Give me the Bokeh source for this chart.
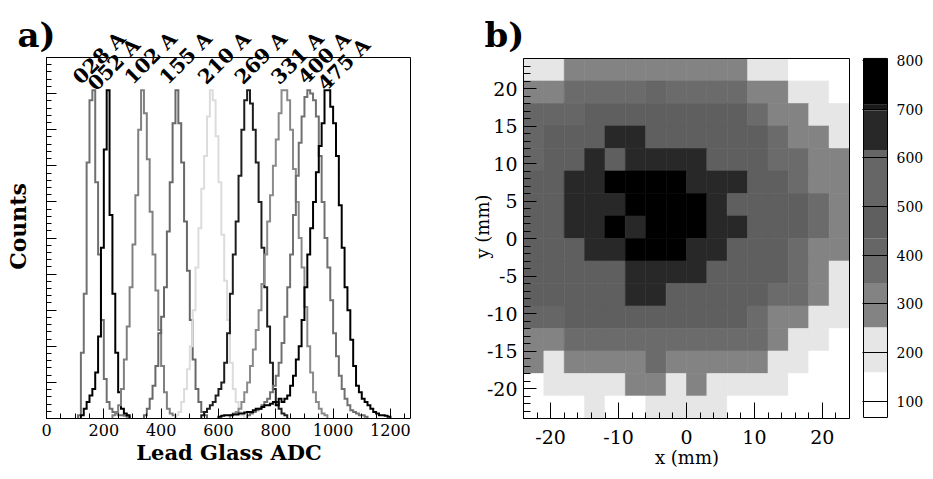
import numpy as np
from bokeh.plotting import figure
from bokeh.layouts import row
from bokeh.models import (ColumnDataSource, Label, Range1d, SingleIntervalTicker,
                          LinearColorMapper, CustomJSTickFormatter)
from bokeh.transform import transform
from bokeh.embed import file_html
from bokeh.resources import INLINE

FONT = "DejaVu Serif"

# ---------------- panel a : lead glass ADC spectra (normalised counts) ----------------
bin_width = 10
adc_max = 1270
count_max = 1.1
currents = ["028 A", "052 A", "102 A", "155 A", "210 A", "269 A", "331 A", "400 A", "475 A"]
first_edge = [110, 120, 230, 340, 450, 540, 640, 700, 600]

h028 = [0.01, 0.2, 0.38, 0.78, 0.97, 1.0, 0.72, 0.5, 0.3, 0.12, 0.05, 0.03, 0.02,
        0.015, 0.01, 0.01, 0.008, 0.005]
h052 = [0.01, 0.03, 0.05, 0.07, 0.09, 0.14, 0.25, 0.52, 0.82, 1.0, 0.62, 0.38, 0.2,
        0.08, 0.03, 0.015, 0.01]
h102 = [0.01, 0.02, 0.04, 0.09, 0.18, 0.28, 0.4, 0.53, 0.68, 0.88, 1.0, 0.93, 0.79,
        0.63, 0.5, 0.39, 0.27, 0.16, 0.08, 0.03, 0.015, 0.01]
h155 = [0.01, 0.03, 0.06, 0.1, 0.16, 0.26, 0.31, 0.4, 0.57, 0.72, 0.9, 1.0, 0.9,
        0.78, 0.6, 0.45, 0.3, 0.18, 0.09, 0.05, 0.02, 0.01]
h210 = [0.01, 0.02, 0.05, 0.09, 0.15, 0.22, 0.33, 0.46, 0.58, 0.7, 0.8, 0.92, 1.0,
        0.97, 0.86, 0.72, 0.56, 0.42, 0.3, 0.17, 0.09, 0.05, 0.02, 0.01]
h269 = [0.01, 0.02, 0.03, 0.04, 0.05, 0.07, 0.09, 0.11, 0.17, 0.26, 0.38, 0.5, 0.6,
        0.74, 0.88, 0.97, 1.0, 0.96, 0.88, 0.78, 0.66, 0.52, 0.4, 0.28, 0.17, 0.09,
        0.05, 0.03, 0.015, 0.01]
h331 = [0.01, 0.015, 0.02, 0.03, 0.05, 0.08, 0.11, 0.16, 0.21, 0.27, 0.33, 0.41, 0.5,
        0.6, 0.68, 0.77, 0.85, 0.93, 1.0, 1.0, 0.97, 0.88, 0.76, 0.66, 0.55, 0.46,
        0.34, 0.22, 0.14, 0.08, 0.05, 0.03, 0.015, 0.01]
h400 = [0.01, 0.015, 0.02, 0.025, 0.03, 0.04, 0.05, 0.06, 0.08, 0.1, 0.13, 0.17, 0.23,
        0.31, 0.4, 0.5, 0.62, 0.74, 0.84, 0.92, 0.98, 1.0, 0.99, 0.97, 0.92, 0.8,
        0.66, 0.55, 0.46, 0.36, 0.26, 0.19, 0.13, 0.09, 0.06, 0.04, 0.025, 0.02,
        0.015, 0.01, 0.01, 0.005]
h475 = [0.005, 0.008, 0.01, 0.01, 0.01, 0.012, 0.012, 0.015, 0.015, 0.018, 0.02, 0.02,
        0.025, 0.03, 0.03, 0.035, 0.04, 0.04, 0.045, 0.05, 0.04, 0.06, 0.05, 0.06,
        0.07, 0.1, 0.13, 0.18, 0.22, 0.3, 0.4, 0.5, 0.58, 0.66, 0.75, 0.83, 0.9, 1.0,
        1.0, 0.95, 0.9, 0.8, 0.65, 0.52, 0.4, 0.33, 0.24, 0.16, 0.1, 0.08, 0.06, 0.05,
        0.04, 0.03, 0.02, 0.015, 0.01, 0.01, 0.008, 0.005]
hist_values = [h028, h052, h102, h155, h210, h269, h331, h400, h475]
hist_colors = ["#707070", "#000000", "#808080", "#686868", "#dcdcdc",
               "#1e1e1e", "#8a8a8a", "#707070", "#000000"]
label_adc = [104, 156, 284, 406, 540, 668, 796, 889, 958]
label_level = [1.03, 1.01, 1.03, 1.03, 1.03, 1.03, 1.03, 1.03, 1.01]

# ---------------- panel b : beam profile (counts per 3x3 mm cell) ----------------
x_bins = [-22.5, -19.5, -16.5, -13.5, -10.5, -7.5, -4.5, -1.5,
          1.5, 4.5, 7.5, 10.5, 13.5, 16.5, 19.5, 22.5]
y_bins = [22.5, 19.5, 16.5, 13.5, 10.5, 7.5, 4.5, 1.5,
          -1.5, -4.5, -7.5, -10.5, -13.5, -16.5, -19.5, -22.5]
cell_size = 3
counts_grid = [
    [205, 210, 300, 305, 300, 300, 300, 300, 300, 300, 300, 210, 205, 110, 110, 110],
    [300, 300, 370, 370, 370, 370, 415, 370, 370, 370, 370, 300, 300, 205, 205, 110],
    [415, 415, 415, 470, 470, 470, 470, 470, 470, 470, 470, 370, 300, 300, 205, 205],
    [415, 470, 470, 470, 660, 660, 470, 470, 470, 470, 470, 470, 370, 300, 300, 205],
    [415, 470, 470, 660, 470, 660, 660, 660, 660, 470, 470, 470, 370, 370, 300, 300],
    [470, 470, 660, 660, 750, 750, 750, 750, 660, 660, 660, 470, 470, 370, 300, 300],
    [470, 470, 660, 660, 660, 750, 750, 750, 750, 660, 470, 470, 470, 470, 370, 300],
    [470, 470, 660, 660, 750, 660, 750, 750, 750, 660, 660, 470, 470, 470, 370, 300],
    [470, 470, 470, 660, 660, 750, 750, 750, 660, 660, 470, 470, 470, 370, 300, 300],
    [470, 470, 470, 470, 470, 660, 660, 660, 660, 470, 470, 470, 470, 370, 300, 205],
    [470, 470, 470, 470, 470, 660, 660, 470, 470, 470, 470, 470, 370, 370, 300, 205],
    [415, 415, 470, 470, 470, 470, 470, 470, 470, 470, 470, 370, 300, 300, 205, 205],
    [300, 300, 370, 370, 370, 370, 370, 370, 370, 370, 370, 370, 300, 205, 205, 110],
    [300, 205, 300, 300, 300, 300, 370, 300, 300, 300, 300, 300, 205, 205, 110, 110],
    [110, 205, 205, 205, 205, 300, 300, 205, 300, 205, 205, 205, 205, 110, 110, 110],
    [110, 110, 110, 205, 110, 110, 205, 205, 205, 205, 110, 110, 110, 110, 110, 110],
]
# colour-scale bands (z values) and their grey levels
cb_edges = [67, 160, 252, 343, 400, 435, 500, 616, 697, 709, 804]
cb_colors = ["#ffffff", "#e6e6e6", "#838383", "#6b6b6b", "#666666", "#5f5f5f",
             "#666666", "#282828", "#1a1a1a", "#000000"]

# ---------------- common frame geometry (frames are aligned across the row) ----------------
TOP, BOTTOM, H = 34, 60, 478          # frame spans y = 34 .. 418 in every figure
BOX_A_TOP = 57                        # top of histogram box in panel a
BOX_B_TOP = 58                        # top of heat-map box / colour bar
frame_h = H - TOP - BOTTOM


def title_style(t, offset):
    t.align = "left"
    t.offset = offset
    t.standoff = -40
    t.text_font = FONT
    t.text_font_style = "bold"
    t.text_font_size = "34px"
    t.text_color = "black"


# ====================== panel a ======================
pa = figure(width=460, height=H,
            x_range=Range1d(0, adc_max * 365 / 364),
            y_range=Range1d(0, count_max * frame_h / (H - BOTTOM - BOX_A_TOP)),
            output_backend="svg", toolbar_location=None, title="a)",
            min_border_left=46, min_border_right=49, min_border_top=TOP, min_border_bottom=BOTTOM)
pa.grid.visible = False
pa.outline_line_color = None
pa.border_fill_color = "white"
pa.background_fill_color = "white"
title_style(pa.title, -29)

# close the histogram box (top and right sides)
pa.line([0, adc_max, adc_max], [count_max, count_max, 0], line_color="black", line_width=1)

for vals, start, col in zip(hist_values, first_edge, hist_colors):
    xs = [start]
    ys = [0.0]
    for i, v in enumerate(vals):
        xs += [start + i * bin_width, start + (i + 1) * bin_width]
        ys += [v, v]
    xs.append(start + len(vals) * bin_width)
    ys.append(0.0)
    pa.line(xs, ys, line_color=col, line_width=2, line_join="miter")

for txt, lx, ly in zip(currents, label_adc, label_level):
    pa.add_layout(Label(x=lx, y=ly, text=txt, angle=45, angle_units="deg",
                        text_font=FONT, text_font_style="bold", text_font_size="20px",
                        text_align="left", text_baseline="alphabetic", text_color="black"))

xa = pa.xaxis[0]
xa.bounds = (0, adc_max)
xa.ticker = SingleIntervalTicker(interval=200, num_minor_ticks=4)
xa.major_tick_in = 10
xa.major_tick_out = 0
xa.minor_tick_in = 5
xa.minor_tick_out = 0
xa.axis_line_color = "black"
xa.major_tick_line_color = "black"
xa.minor_tick_line_color = "black"
xa.major_label_text_font = FONT
xa.major_label_text_font_size = "16px"
xa.major_label_text_color = "black"
xa.major_label_standoff = 5
xa.axis_label = "Lead Glass ADC"
xa.axis_label_text_font = FONT
xa.axis_label_text_font_style = "bold"
xa.axis_label_text_font_size = "21px"
xa.axis_label_text_color = "black"
xa.axis_label_standoff = 1

ya = pa.yaxis[0]
ya.bounds = (0, count_max)
ya.ticker = SingleIntervalTicker(interval=0.11, num_minor_ticks=5)
ya.formatter = CustomJSTickFormatter(code="return ''")
ya.major_tick_in = 10
ya.major_tick_out = 0
ya.minor_tick_in = 5
ya.minor_tick_out = 0
ya.axis_line_color = "black"
ya.major_tick_line_color = "black"
ya.minor_tick_line_color = "black"
ya.major_label_standoff = 0
ya.axis_label = "Counts"
ya.axis_label_text_font = FONT
ya.axis_label_text_font_style = "bold"
ya.axis_label_text_font_size = "22px"
ya.axis_label_text_color = "black"
ya.axis_label_standoff = 16

# ====================== panel b ======================
levels = np.arange(cb_edges[0], cb_edges[-1]) + 0.5
band_idx = np.searchsorted(cb_edges, levels, side="right") - 1
fine_palette = [cb_colors[i] for i in band_idx]
mapper = LinearColorMapper(palette=fine_palette, low=cb_edges[0], high=cb_edges[-1])

cx, cy, cz = [], [], []
for yv, row_vals in zip(y_bins, counts_grid):
    for xv, zv in zip(x_bins, row_vals):
        cx.append(xv)
        cy.append(yv)
        cz.append(zv)
src = ColumnDataSource(data=dict(x=cx, y=cy, z=cz))

x_lo, x_hi = min(x_bins) - cell_size / 2, max(x_bins) + cell_size / 2
y_lo, y_hi = min(y_bins) - cell_size / 2, max(y_bins) + cell_size / 2
box_h = H - BOTTOM - BOX_B_TOP
pb = figure(width=396, height=H,
            x_range=Range1d(x_lo, x_hi + (x_hi - x_lo) / 326),
            y_range=Range1d(y_lo, y_lo + (y_hi - y_lo) * frame_h / box_h),
            output_backend="svg", toolbar_location=None, title="b)",
            min_border_left=63, min_border_right=6, min_border_top=TOP, min_border_bottom=BOTTOM)
pb.grid.visible = False
pb.outline_line_color = None
pb.border_fill_color = "white"
title_style(pb.title, -39)
pb.rect(x="x", y="y", width=cell_size, height=cell_size, source=src,
        fill_color=transform("z", mapper), line_color=transform("z", mapper), line_width=0.6)
pb.line([x_lo, x_hi, x_hi], [y_hi, y_hi, y_lo], line_color="black", line_width=1)

bx = pb.xaxis[0]
bx.bounds = (x_lo, x_hi)
bx.ticker = SingleIntervalTicker(interval=10, num_minor_ticks=5)
bx.formatter = CustomJSTickFormatter(code="return tick.toString()")
bx.major_tick_in = 16
bx.major_tick_out = 0
bx.minor_tick_in = 6
bx.minor_tick_out = 0
bx.axis_line_color = "black"
bx.major_tick_line_color = "black"
bx.minor_tick_line_color = "black"
bx.major_label_text_font = FONT
bx.major_label_text_font_size = "19px"
bx.major_label_text_color = "black"
bx.major_label_standoff = 11
bx.axis_label = "x (mm)"
bx.axis_label_text_font = FONT
bx.axis_label_text_font_style = "normal"
bx.axis_label_text_font_size = "18px"
bx.axis_label_text_color = "black"
bx.axis_label_standoff = 0

by = pb.yaxis[0]
by.bounds = (y_lo, y_hi)
by.ticker = SingleIntervalTicker(interval=5, num_minor_ticks=5)
by.formatter = CustomJSTickFormatter(code="return tick.toString()")
by.major_tick_in = 13
by.major_tick_out = 0
by.minor_tick_in = 7
by.minor_tick_out = 0
by.axis_line_color = "black"
by.major_tick_line_color = "black"
by.minor_tick_line_color = "black"
by.major_label_text_font = FONT
by.major_label_text_font_size = "19px"
by.major_label_text_color = "black"
by.major_label_standoff = 6
by.axis_label = "y (mm)"
by.axis_label_text_font = FONT
by.axis_label_text_font_style = "normal"
by.axis_label_text_font_size = "18px"
by.axis_label_text_color = "black"
by.axis_label_standoff = -9

# ====================== colour scale ======================
z_lo, z_hi = cb_edges[0], cb_edges[-1]
z_per_px = (z_hi - z_lo) / box_h
pc = figure(width=76, height=H, x_range=Range1d(-1 / 24, 1),
            y_range=Range1d(z_lo - z_per_px, z_hi + (BOX_B_TOP - TOP) * z_per_px),
            x_axis_location=None, y_axis_location="right",
            output_backend="svg", toolbar_location=None,
            min_border_left=6, min_border_right=45, min_border_top=TOP, min_border_bottom=BOTTOM)
pc.grid.visible = False
pc.outline_line_color = None
pc.border_fill_color = "white"
pc.quad(left=0, right=1, bottom=cb_edges[:-1], top=cb_edges[1:],
        fill_color=cb_colors, line_color=None)
pc.quad(left=0, right=1, bottom=z_lo, top=z_hi, fill_color=None, line_color="black",
        line_width=1)
cy_ax = pc.yaxis[0]
cy_ax.bounds = (z_lo, z_hi)
cy_ax.ticker = SingleIntervalTicker(interval=100, num_minor_ticks=0)
cy_ax.major_tick_in = 25
cy_ax.major_tick_out = 0
cy_ax.minor_tick_in = 0
cy_ax.minor_tick_out = 0
cy_ax.major_tick_line_color = "black"
cy_ax.major_tick_line_width = 1.2
cy_ax.axis_line_color = "black"
cy_ax.major_label_text_font = FONT
cy_ax.major_label_text_font_size = "14px"
cy_ax.major_label_text_color = "black"
cy_ax.major_label_standoff = 9

layout = row(pa, pb, pc)
open("out.html", "w").write(file_html(layout, INLINE))
